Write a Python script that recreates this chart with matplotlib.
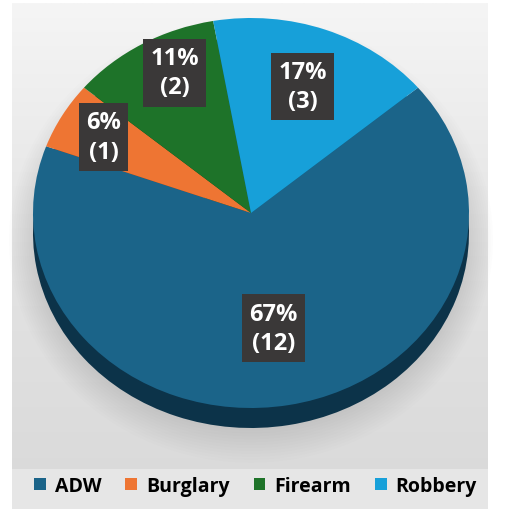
import matplotlib
matplotlib.use('Agg')
import matplotlib.pyplot as plt
import numpy as np
from matplotlib.colors import LinearSegmentedColormap
from matplotlib.patches import Rectangle, Ellipse

categories = ['ADW', 'Burglary', 'Firearm', 'Robbery']
counts = [12, 1, 2, 3]
colors = ['#1b6489', '#ee7533', '#1e7329', '#17a0d9']
side_colors = ['#0c3349', '#8a3f15', '#0d3d13', '#0a5a80']
label_dist = [0.6, 0.78, 0.8, 0.69]
label_turn = [0, 0, -4, 0]   # small angular nudges of the label boxes (deg)

W, H = 506, 510
fig = plt.figure(figsize=(W / 100, H / 100), dpi=100, facecolor='white')

# background panel with gradient
bg = fig.add_axes([12 / W, 0, (488 - 12) / W, (H - 4) / H])
bg.set_axis_off()
cmap = LinearSegmentedColormap.from_list('bg', ['#d9d9d9', '#e3e3e3', '#f5f5f5'])
grad = np.linspace(0, 1, 256)[:, None]
bg.imshow(grad, cmap=cmap, extent=[0, 1, 0, 1], aspect='auto', origin='lower')
bg.add_patch(Rectangle((0, 0), 1, 40 / (H - 4), facecolor='#e6e6e6', edgecolor='none'))
bg.set_xlim(0, 1)
bg.set_ylim(0, 1)

# main pie axes (pixel-mapped ellipse)
cx, cy, rx, ry = 251, 214, 218, 195
ax = fig.add_axes([0, 0, 1, 1])
ax.patch.set_alpha(0)

# soft shadow under pie
for i in range(12):
    ax.add_patch(Ellipse((0, -0.14), 2.0 + 0.02 * i, 1.95 + 0.03 * i,
                         facecolor='#9a9a9a', edgecolor='none', alpha=0.025))

depth = 20 / ry
ax.pie(counts, colors=side_colors, startangle=40, counterclock=False,
       center=(0, -depth), wedgeprops=dict(linewidth=0))

total = sum(counts)

def fmt(pct):
    n = int(round(pct * total / 100))
    return f"{pct:.0f}%\n({n})"

wedges, texts, autotexts = ax.pie(
    counts, colors=colors, startangle=40, counterclock=False,
    autopct=fmt, pctdistance=0.7, wedgeprops=dict(linewidth=0),
    textprops=dict(color='white', fontsize=17, fontweight='bold',
                   family='Open Sans', linespacing=1.3))

for w, t, d, a in zip(wedges, autotexts, label_dist, label_turn):
    th = np.deg2rad((w.theta1 + w.theta2) / 2 + a)
    t.set_position((d * np.cos(th), d * np.sin(th)))
    t.set_bbox(dict(boxstyle='square,pad=0.3', facecolor='#3a3838', edgecolor='none'))

ax.set_aspect('auto')
ax.set_xlim(-cx / rx, (W - cx) / rx)
ax.set_ylim((cy - H) / ry, cy / ry)
ax.set_axis_off()

fig.legend(wedges, categories, loc='center', bbox_to_anchor=(0.505, (H - 487) / H),
           ncol=4, frameon=False, handlelength=0.6, handleheight=0.6,
           handletextpad=0.45, columnspacing=1.25,
           prop=dict(family='Open Sans', weight='bold', size=14))

fig.savefig('out.png', dpi=100, facecolor='white')
